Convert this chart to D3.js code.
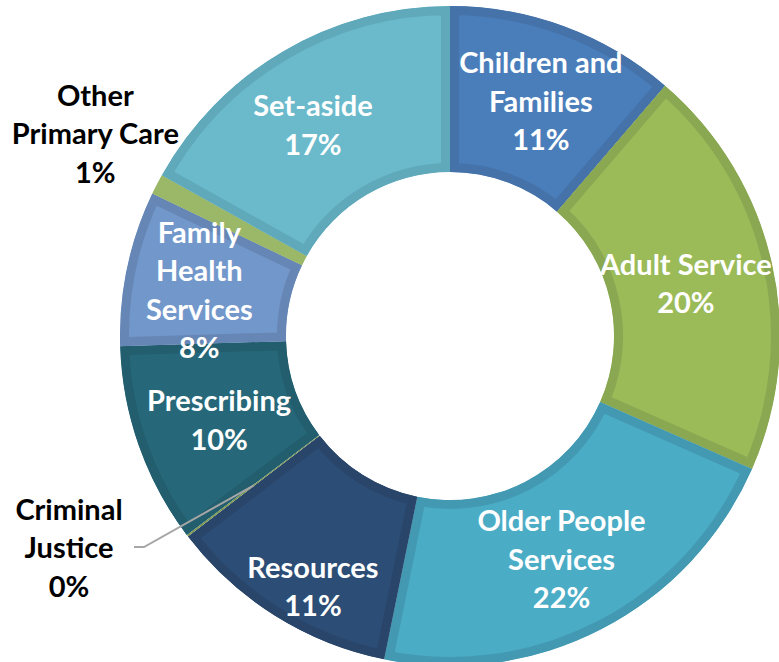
<!DOCTYPE html>
<html><head><meta charset="utf-8">
<script src="https://cdn.jsdelivr.net/npm/d3@7"></script>
<style>body{margin:0;background:#fff;overflow:hidden}</style>
</head><body><svg id="c" width="779" height="662"></svg>
<script>
// ---- data ----
const categories = ["Children and Families","Adult Service","Older People Services","Resources","Criminal Justice","Prescribing","Family Health Services","Other Primary Care","Set-aside"];
const values = [11.3, 20.3, 21.6, 11.4, 0.1, 9.8, 7.6, 1.0, 16.9];
const labelLines = [["Children and","Families"],["Adult Service"],["Older People","Services"],["Resources"],["Criminal","Justice"],["Prescribing"],["Family","Health","Services"],["Other","Primary Care"],["Set-aside"]];

// ---- styles ----
const fills   = ["#4a7ebb","#9bbb59","#4bacc6","#2c4d75","#7f9a4e","#26687a","#7297cb","#9bb868","#6bbacc"];
const borders = ["#4572a9","#8aa752","#4499b2","#29456a","#7f9a4e","#225e6e","#6687b5","#9bb868","#5fa9bb"];
const outside = [false,false,false,false,true,false,false,true,false];
// label nudges from the arc centroid [dx, dy]
const nudges = [[5,-3],[-5,2],[-2,4],[-6,41],[0,0],[2,2],[-9,5],[0,0],[-12,2]];

const W = 779, H = 662, cx = 450, cy = 336, R = 330, r0 = 164, lh = 38.5;
const svg = d3.select("#c");
const g = svg.append("g").attr("transform", `translate(${cx},${cy})`);

const pie = d3.pie().sort(null).value(d => d).startAngle(0).endAngle(2*Math.PI);
const arcs = pie(values);
const arc = d3.arc().innerRadius(r0).outerRadius(R);
const midArc = d3.arc().innerRadius((r0+R)/2).outerRadius((r0+R)/2);

const defs = svg.append("defs");
arcs.forEach((a,i) => {
  defs.append("clipPath").attr("id","clip"+i).append("path").attr("d", arc(a));
});

g.selectAll("path.slice").data(arcs).join("path")
  .attr("class","slice")
  .attr("d", arc)
  .attr("fill", (d,i) => fills[i])
  .attr("stroke", (d,i) => borders[i])
  .attr("stroke-width", (d,i) => outside[i] && i === 4 ? 0 : 18)
  .attr("clip-path", (d,i) => `url(#clip${i})`);

const font = "Lato, 'Open Sans', sans-serif";

function drawLabel(x, y, lines, color){
  const t = g.append("text")
    .attr("text-anchor","middle")
    .attr("font-family", font)
    .attr("font-weight", 700)
    .attr("font-size", 29)
    .attr("fill", color);
  const n = lines.length;
  lines.forEach((s,k) => {
    t.append("tspan").attr("x", x)
      .attr("y", y + (k - (n-1)/2)*lh)
      .attr("dy", "0.36em")
      .text(s);
  });
}

arcs.forEach((a,i) => {
  const lines = labelLines[i].concat([Math.round(values[i]) + "%"]);
  if (!outside[i]) {
    const c = midArc.centroid(a);
    drawLabel(c[0] + nudges[i][0], c[1] + nudges[i][1], lines, "#ffffff");
  }
});

// Other Primary Care label (outside, no leader)
{
  const i = 7, a = arcs[i];
  const p = d3.pointRadial((a.startAngle + a.endAngle)/2, 405);
  drawLabel(p[0] + 5, p[1] - 16, labelLines[i].concat([Math.round(values[i]) + "%"]), "#000000");
}
// Criminal Justice label with leader line
{
  const i = 4, a = arcs[i];
  const c = midArc.centroid(a);
  const labelX = -381, labelY = 212;
  const elbow = [labelX + 75, labelY - 1];
  const endH = [labelX + 65, labelY - 1];
  g.append("path")
    .attr("d", d3.line()([c, elbow, endH]))
    .attr("fill","none").attr("stroke","#a6a6a6").attr("stroke-width",2);
  drawLabel(labelX, labelY, labelLines[i].concat([Math.round(values[i]) + "%"]), "#000000");
}
</script></body></html>
